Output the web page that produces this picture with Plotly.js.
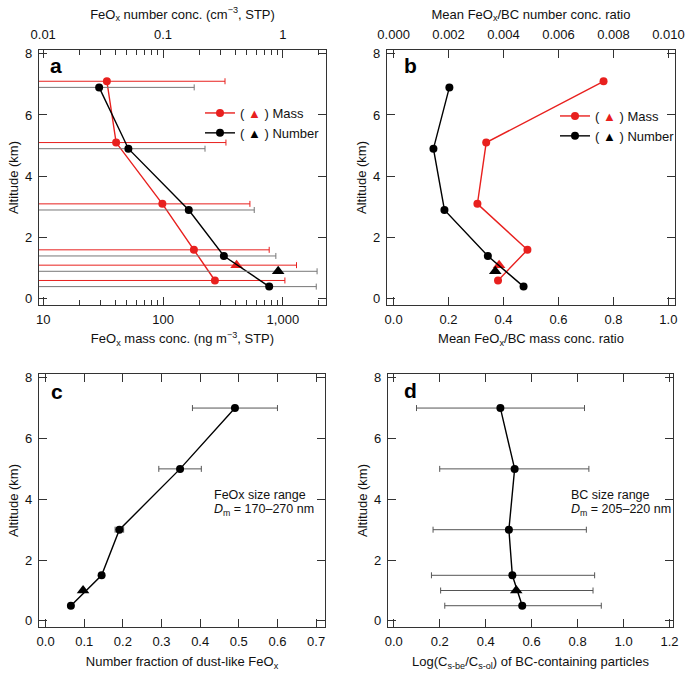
<!DOCTYPE html>
<html>
<head>
<meta charset="utf-8">
<script src="https://cdn.plot.ly/plotly-3.0.1.min.js"></script>
<style>body{margin:0;background:#fff}</style>
</head>
<body>
<div id="chart" style="width:685px;height:674px"></div>
<script>
// ---------- Panel a: FeOx concentrations ----------
const altMass = [7.1, 5.1, 3.1, 1.6, 0.6];
const massConc = [34, 40.6, 98.7, 181, 271];          // ng m-3
const massConcHi = [329, 335, 531, 769, 1040];
const massConcLo = [5, 5, 5, 5, 5];                    // off scale (below axis)
const altMassTri = [1.1];
const massConcTri = [411];
const massConcTriHi = [1300];
const massConcTriLo = [5];

const altNum = [6.9, 4.9, 2.9, 1.4, 0.4];
const numConc = [0.0293, 0.0514, 0.164, 0.322, 0.769]; // cm-3
const numConcHi = [0.182, 0.224, 0.577, 0.874, 1.9];
const numConcLo = [0.005, 0.005, 0.005, 0.005, 0.005];
const altNumTri = [0.9];
const numConcTri = [0.914];
const numConcTriHi = [1.93];
const numConcTriLo = [0.005];

// ---------- Panel b: FeOx/BC ratios ----------
const massRatio = [0.764, 0.337, 0.305, 0.487, 0.38];
const massRatioTri = [0.384];
const numRatio = [0.00203, 0.00145, 0.00185, 0.00343, 0.00473];
const numRatioTri = [0.0037];

// ---------- Panel c: dust-like fraction ----------
const altC = [7, 5, 3, 1.5, 0.5];
const dustFrac = [0.49, 0.348, 0.191, 0.145, 0.0655];
const dustFracErr = [0.11, 0.055, 0.011, 0, 0];
const altCTri = [1.0];
const dustFracTri = [0.097];

// ---------- Panel d: Log(Cs-be/Cs-ol) ----------
const altD = [7, 5, 3, 1.5, 0.5];
const logRatio = [0.464, 0.526, 0.501, 0.516, 0.559];
const logRatioLo = [0.099, 0.2, 0.171, 0.164, 0.222];
const logRatioHi = [0.83, 0.849, 0.838, 0.874, 0.903];
const altDTri = [1.0];
const logRatioTri = [0.533];
const logRatioTriLo = [0.204];
const logRatioTriHi = [0.867];

// tick labels
const massTickVals = [10, 100, 1000];
const massTickText = ['10', '100', '1,000'];
const massMinor = [20,30,40,50,60,70,80,90,200,300,400,500,600,700,800,900,2000];
const numTickVals = [0.01, 0.1, 1];
const numTickText = ['0.01', '0.1', '1'];
const numMinor = [0.02,0.03,0.04,0.05,0.06,0.07,0.08,0.09,0.2,0.3,0.4,0.5,0.6,0.7,0.8,0.9,2];

const RED = '#e8201e';
const FR = '#333333';
const FONT = 'Liberation Sans, Arial, Helvetica, sans-serif';

const minus = (v, lo) => v.map((d, i) => d - lo[i]);
const plus = (v, hi) => v.map((d, i) => hi[i] - d);

function W(px){return px/685;}
function H(py){return 1 - py/674;}

const traces = [
  // panel a
  {x: massConc, y: altMass, xaxis:'x', yaxis:'y', mode:'lines+markers', type:'scatter',
   name:"( <span style='color:"+RED+"'>▲</span> ) Mass", legend:'legend',
   line:{color:RED, width:1.4}, marker:{color:RED, size:8},
   error_x:{type:'data', symmetric:false, array:plus(massConc, massConcHi), arrayminus:minus(massConc, massConcLo), color:RED, thickness:1, width:3}},
  {x: massConcTri, y: altMassTri, xaxis:'x', yaxis:'y', mode:'markers', type:'scatter', showlegend:false,
   marker:{color:RED, size:11, symbol:'triangle-up'},
   error_x:{type:'data', symmetric:false, array:plus(massConcTri, massConcTriHi), arrayminus:minus(massConcTri, massConcTriLo), color:RED, thickness:1, width:3}},
  {x: numConc, y: altNum, xaxis:'x5', yaxis:'y', mode:'lines+markers', type:'scatter',
   name:"( <span style='color:#000'>▲</span> ) Number", legend:'legend',
   line:{color:'#000', width:1.4}, marker:{color:'#000', size:8},
   error_x:{type:'data', symmetric:false, array:plus(numConc, numConcHi), arrayminus:minus(numConc, numConcLo), color:'#777', thickness:1, width:3}},
  {x: numConcTri, y: altNumTri, xaxis:'x5', yaxis:'y', mode:'markers', type:'scatter', showlegend:false,
   marker:{color:'#000', size:11, symbol:'triangle-up'},
   error_x:{type:'data', symmetric:false, array:plus(numConcTri, numConcTriHi), arrayminus:minus(numConcTri, numConcTriLo), color:'#777', thickness:1, width:3}},
  // panel b
  {x: massRatio, y: altMass, xaxis:'x2', yaxis:'y2', mode:'lines+markers', type:'scatter',
   name:"( <span style='color:"+RED+"'>▲</span> ) Mass", legend:'legend2',
   line:{color:RED, width:1.4}, marker:{color:RED, size:8}},
  {x: massRatioTri, y: altMassTri, xaxis:'x2', yaxis:'y2', mode:'markers', type:'scatter', showlegend:false,
   marker:{color:RED, size:11, symbol:'triangle-up'}},
  {x: numRatio, y: altNum, xaxis:'x6', yaxis:'y2', mode:'lines+markers', type:'scatter',
   name:"( <span style='color:#000'>▲</span> ) Number", legend:'legend2',
   line:{color:'#000', width:1.4}, marker:{color:'#000', size:8}},
  {x: numRatioTri, y: altNumTri, xaxis:'x6', yaxis:'y2', mode:'markers', type:'scatter', showlegend:false,
   marker:{color:'#000', size:11, symbol:'triangle-up'}},
  // panel c
  {x: dustFrac, y: altC, xaxis:'x3', yaxis:'y3', mode:'lines+markers', type:'scatter', showlegend:false,
   line:{color:'#000', width:1.4}, marker:{color:'#000', size:8},
   error_x:{type:'data', array:dustFracErr, color:'#555', thickness:1, width:3}},
  {x: dustFracTri, y: altCTri, xaxis:'x3', yaxis:'y3', mode:'markers', type:'scatter', showlegend:false,
   marker:{color:'#000', size:11, symbol:'triangle-up'}},
  // panel d
  {x: logRatio, y: altD, xaxis:'x4', yaxis:'y4', mode:'lines+markers', type:'scatter', showlegend:false,
   line:{color:'#000', width:1.4}, marker:{color:'#000', size:8},
   error_x:{type:'data', symmetric:false, array:plus(logRatio, logRatioHi), arrayminus:minus(logRatio, logRatioLo), color:'#555', thickness:1, width:3}},
  {x: logRatioTri, y: altDTri, xaxis:'x4', yaxis:'y4', mode:'markers', type:'scatter', showlegend:false,
   marker:{color:'#000', size:11, symbol:'triangle-up'},
   error_x:{type:'data', symmetric:false, array:plus(logRatioTri, logRatioTriHi), arrayminus:minus(logRatioTri, logRatioTriLo), color:'#555', thickness:1, width:3}}
];

function yAx(domain, anchor){
  return {domain: domain, anchor: anchor, range:[-0.2, 8.12], tick0:0, dtick:2,
    ticks:'inside', ticklen:8, tickwidth:1.3, tickcolor:FR,
    showline:true, linecolor:FR, linewidth:1.3, mirror:'ticks',
    zeroline:false, showgrid:false, ticklabelstandoff:3,
    tickfont:{size:13, color:'#111'},
    title:{text:'Altitude (km)', font:{size:13, color:'#111'}, standoff:3}};
}
function xAx(domain, anchor, extra){
  return Object.assign({domain: domain, anchor: anchor,
    ticks:'inside', ticklen:8, tickwidth:1.3, tickcolor:FR,
    showline:true, linecolor:FR, linewidth:1.3, mirror:'ticks',
    zeroline:false, showgrid:false, ticklabelstandoff:2,
    tickfont:{size:13, color:'#111'}}, extra);
}

const dA = [W(39), W(326)], dB = [W(387), W(675)];
const dC = [W(39), W(325)], dD = [W(388), W(673)];
const yTop = [H(305), H(50)], yBot = [H(627), H(374)];

const layout = {
  width:685, height:674, margin:{l:0, r:0, t:0, b:0},
  paper_bgcolor:'#fff', plot_bgcolor:'#fff',
  font:{family:FONT, color:'#111', size:13},
  showlegend:true,
  xaxis: xAx(dA, 'y', {type:'log', range:[0.965, 3.36], tickmode:'array', tickvals:massTickVals, ticktext:massTickText, mirror:true,
    minor:{tickmode:'array', tickvals:massMinor, ticks:'inside', ticklen:5, tickwidth:1.2, tickcolor:FR},
    title:{text:'FeO<sub>x</sub> mass conc. (ng m<sup>−3</sup>, STP)', font:{size:13}, standoff:8}}),
  xaxis5: xAx(dA, 'y', {overlaying:'x', side:'top', type:'log', range:[-2.035, 0.36], tickmode:'array', tickvals:numTickVals, ticktext:numTickText, mirror:false,
    ticklabelstandoff:5,
    minor:{tickmode:'array', tickvals:numMinor, ticks:'inside', ticklen:5, tickwidth:1.2, tickcolor:FR},
    title:{text:'FeO<sub>x</sub> number conc. (cm<sup>−3</sup>, STP)', font:{size:13}, standoff:4}}),
  yaxis: yAx(yTop, 'x'),
  xaxis2: xAx(dB, 'y2', {range:[-0.024, 1.024], tick0:0, dtick:0.2, tickformat:'.1f', mirror:true,
    title:{text:'Mean FeO<sub>x</sub>/BC mass conc. ratio', font:{size:13}, standoff:8}}),
  xaxis6: xAx(dB, 'y2', {overlaying:'x2', side:'top', range:[-0.00024, 0.01024], tick0:0, dtick:0.002, tickformat:'.3f', mirror:false,
    ticklabelstandoff:5,
    title:{text:'Mean FeO<sub>x</sub>/BC number conc. ratio', font:{size:13}, standoff:4}}),
  yaxis2: yAx(yTop, 'x2'),
  xaxis3: xAx(dC, 'y3', {range:[-0.017, 0.723], tick0:0, dtick:0.1, tickformat:'.1f',
    title:{text:'Number fraction of dust-like FeO<sub>x</sub>', font:{size:13}, standoff:9}}),
  yaxis3: yAx(yBot, 'x3'),
  xaxis4: xAx(dD, 'y4', {range:[-0.025, 1.215], tick0:0, dtick:0.2, tickformat:'.1f',
    title:{text:'Log(C<sub>s-be</sub>/C<sub>s-ol</sub>) of BC-containing particles', font:{size:13}, standoff:9}}),
  yaxis4: yAx(yBot, 'x4'),
  legend:{x:W(200), y:H(98), xanchor:'left', yanchor:'top', bgcolor:'rgba(0,0,0,0)', borderwidth:0,
    font:{size:13, color:'#111'}, tracegroupgap:0, itemwidth:30},
  legend2:{x:W(555), y:H(101), xanchor:'left', yanchor:'top', bgcolor:'rgba(0,0,0,0)', borderwidth:0,
    font:{size:13, color:'#111'}, tracegroupgap:0, itemwidth:30},
  annotations:[
    {text:'<b>a</b>', xref:'paper', yref:'paper', x:W(48), y:H(66), xanchor:'left', yanchor:'middle', showarrow:false, font:{size:21, color:'#000'}},
    {text:'<b>b</b>', xref:'paper', yref:'paper', x:W(402), y:H(66), xanchor:'left', yanchor:'middle', showarrow:false, font:{size:21, color:'#000'}},
    {text:'<b>c</b>', xref:'paper', yref:'paper', x:W(49), y:H(391), xanchor:'left', yanchor:'middle', showarrow:false, font:{size:21, color:'#000'}},
    {text:'<b>d</b>', xref:'paper', yref:'paper', x:W(402), y:H(390), xanchor:'left', yanchor:'middle', showarrow:false, font:{size:21, color:'#000'}},
    {text:'FeOx size range', xref:'paper', yref:'paper', x:W(212), y:H(495), xanchor:'left', yanchor:'middle', showarrow:false, font:{size:12.5, color:'#111'}},
    {text:'<i>D</i><sub>m</sub> = 170–270 nm', xref:'paper', yref:'paper', x:W(212), y:H(510), xanchor:'left', yanchor:'middle', showarrow:false, font:{size:12.5, color:'#111'}},
    {text:'BC size range', xref:'paper', yref:'paper', x:W(569), y:H(495), xanchor:'left', yanchor:'middle', showarrow:false, font:{size:12.5, color:'#111'}},
    {text:'<i>D</i><sub>m</sub> = 205–220 nm', xref:'paper', yref:'paper', x:W(569), y:H(510), xanchor:'left', yanchor:'middle', showarrow:false, font:{size:12.5, color:'#111'}}
  ]
};

Plotly.newPlot('chart', traces, layout, {displayModeBar:false});
</script>
</body>
</html>
